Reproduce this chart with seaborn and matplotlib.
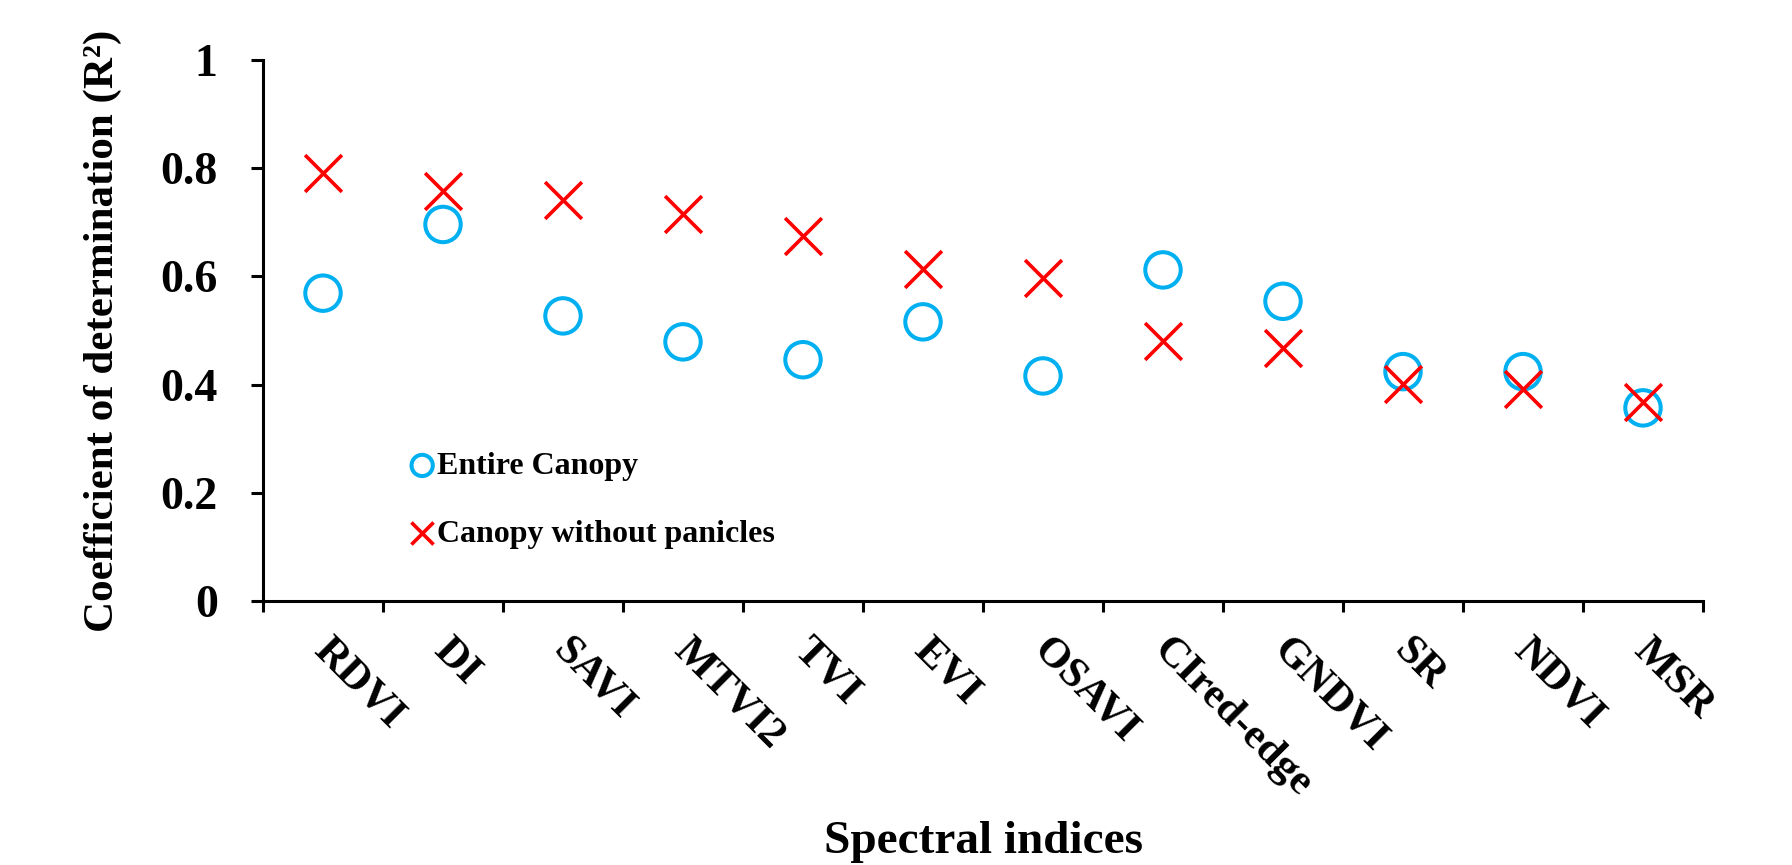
import numpy as np
import pandas as pd
import matplotlib
matplotlib.use("Agg")
import matplotlib.pyplot as plt
import matplotlib.transforms as mtransforms
import seaborn as sns

# ---- data ----
indices = ["RDVI", "DI", "SAVI", "MTVI2", "TVI", "EVI", "OSAVI",
           "CIred-edge", "GNDVI", "SR", "NDVI", "MSR"]
entire_canopy = [0.569, 0.696, 0.527, 0.479, 0.446, 0.516, 0.416,
                 0.612, 0.554, 0.424, 0.424, 0.357]
without_panicles = [0.792, 0.757, 0.742, 0.715, 0.675, 0.614, 0.597,
                    0.481, 0.468, 0.401, 0.391, 0.368]
ytick_values = [0, 0.2, 0.4, 0.6, 0.8, 1.0]
ytick_labels = ["0", "0.2", "0.4", "0.6", "0.8", "1"]
series_names = ["Entire Canopy", "Canopy without panicles"]

BLUE = "#00B0F0"
RED = "#FF0000"

sns.set_theme(style="ticks")
plt.rcParams["font.family"] = ["Liberation Serif", "DejaVu Serif"]
plt.rcParams["font.weight"] = "bold"
plt.rcParams["axes.labelweight"] = "bold"
plt.rcParams["text.color"] = "black"

df = pd.DataFrame({"index": indices,
                   "entire": entire_canopy,
                   "without": without_panicles})

fig = plt.figure(figsize=(17.92, 8.65), dpi=100)
fig.patch.set_facecolor("white")
ax = fig.add_axes([263 / 1792, 1 - 601 / 865, 1440 / 1792, 541 / 865])
ax.set_facecolor("white")

sns.scatterplot(data=df, x="index", y="entire", ax=ax, marker="o", s=25.5 ** 2,
                color=BLUE, facecolor="none", edgecolor=BLUE, linewidth=2.9,
                label=series_names[0], zorder=3)
sns.scatterplot(data=df, x="index", y="without", ax=ax, marker="x", s=26.5 ** 2,
                color=RED, linewidth=2.6, label=series_names[1], zorder=4)

# axes limits and spines
ax.set_xlim(-0.5, len(indices) - 0.5)
ax.set_ylim(0, 1)
sns.despine(ax=ax)
for sp in ("left", "bottom"):
    ax.spines[sp].set_linewidth(2.2)
    ax.spines[sp].set_color("black")

# y ticks
ax.set_yticks(ytick_values)
ax.set_yticklabels(ytick_labels)
ax.tick_params(axis="y", direction="out", length=8.6, width=2.2, pad=24,
               labelsize=33, colors="black")

# x ticks: major at boundaries (marks), minor at centers (labels)
ax.set_xticks(np.arange(-0.5, len(indices), 1.0))
ax.set_xticklabels([])
ax.set_xticks(np.arange(len(indices)), minor=True)
ax.set_xticklabels(indices, minor=True)
ax.tick_params(axis="x", which="major", direction="out", length=8, width=2.2,
               colors="black")
ax.tick_params(axis="x", which="minor", length=0, pad=22, labelsize=31,
               colors="black")
offset = mtransforms.ScaledTranslation(10 / 100, 0, fig.dpi_scale_trans)
for lab in ax.get_xticklabels(minor=True):
    lab.set_rotation(-45)
    lab.set_rotation_mode("anchor")
    lab.set_ha("left")
    lab.set_va("top")
    lab.set_fontweight("bold")
    lab.set_transform(lab.get_transform() + offset)
for lab in ax.get_yticklabels():
    lab.set_fontweight("bold")

# axis labels
ax.set_xlabel("Spectral indices", fontsize=34, fontweight="bold", color="black")
ax.xaxis.label.set_va("baseline")
ax.xaxis.set_label_coords(0.5, (601 - 853) / 541)
ax.set_ylabel("Coefficient of determination (R\u00b2)", fontsize=31,
              fontweight="bold", color="black")
ax.yaxis.label.set_va("baseline")
ax.yaxis.set_label_coords((113 - 263) / 1440, 0.5)

# legend
leg = ax.legend(loc="center left", bbox_to_anchor=((411 - 263) / 1440, (601 - 500) / 541),
                frameon=False, markerscale=0.6, borderpad=0, borderaxespad=0,
                handlelength=0.7, handletextpad=0.1, labelspacing=1.2,
                labelcolor="black",
                prop={"family": "Liberation Serif", "weight": "bold", "size": 23})

fig.savefig("out.png", dpi=100, facecolor="white")
